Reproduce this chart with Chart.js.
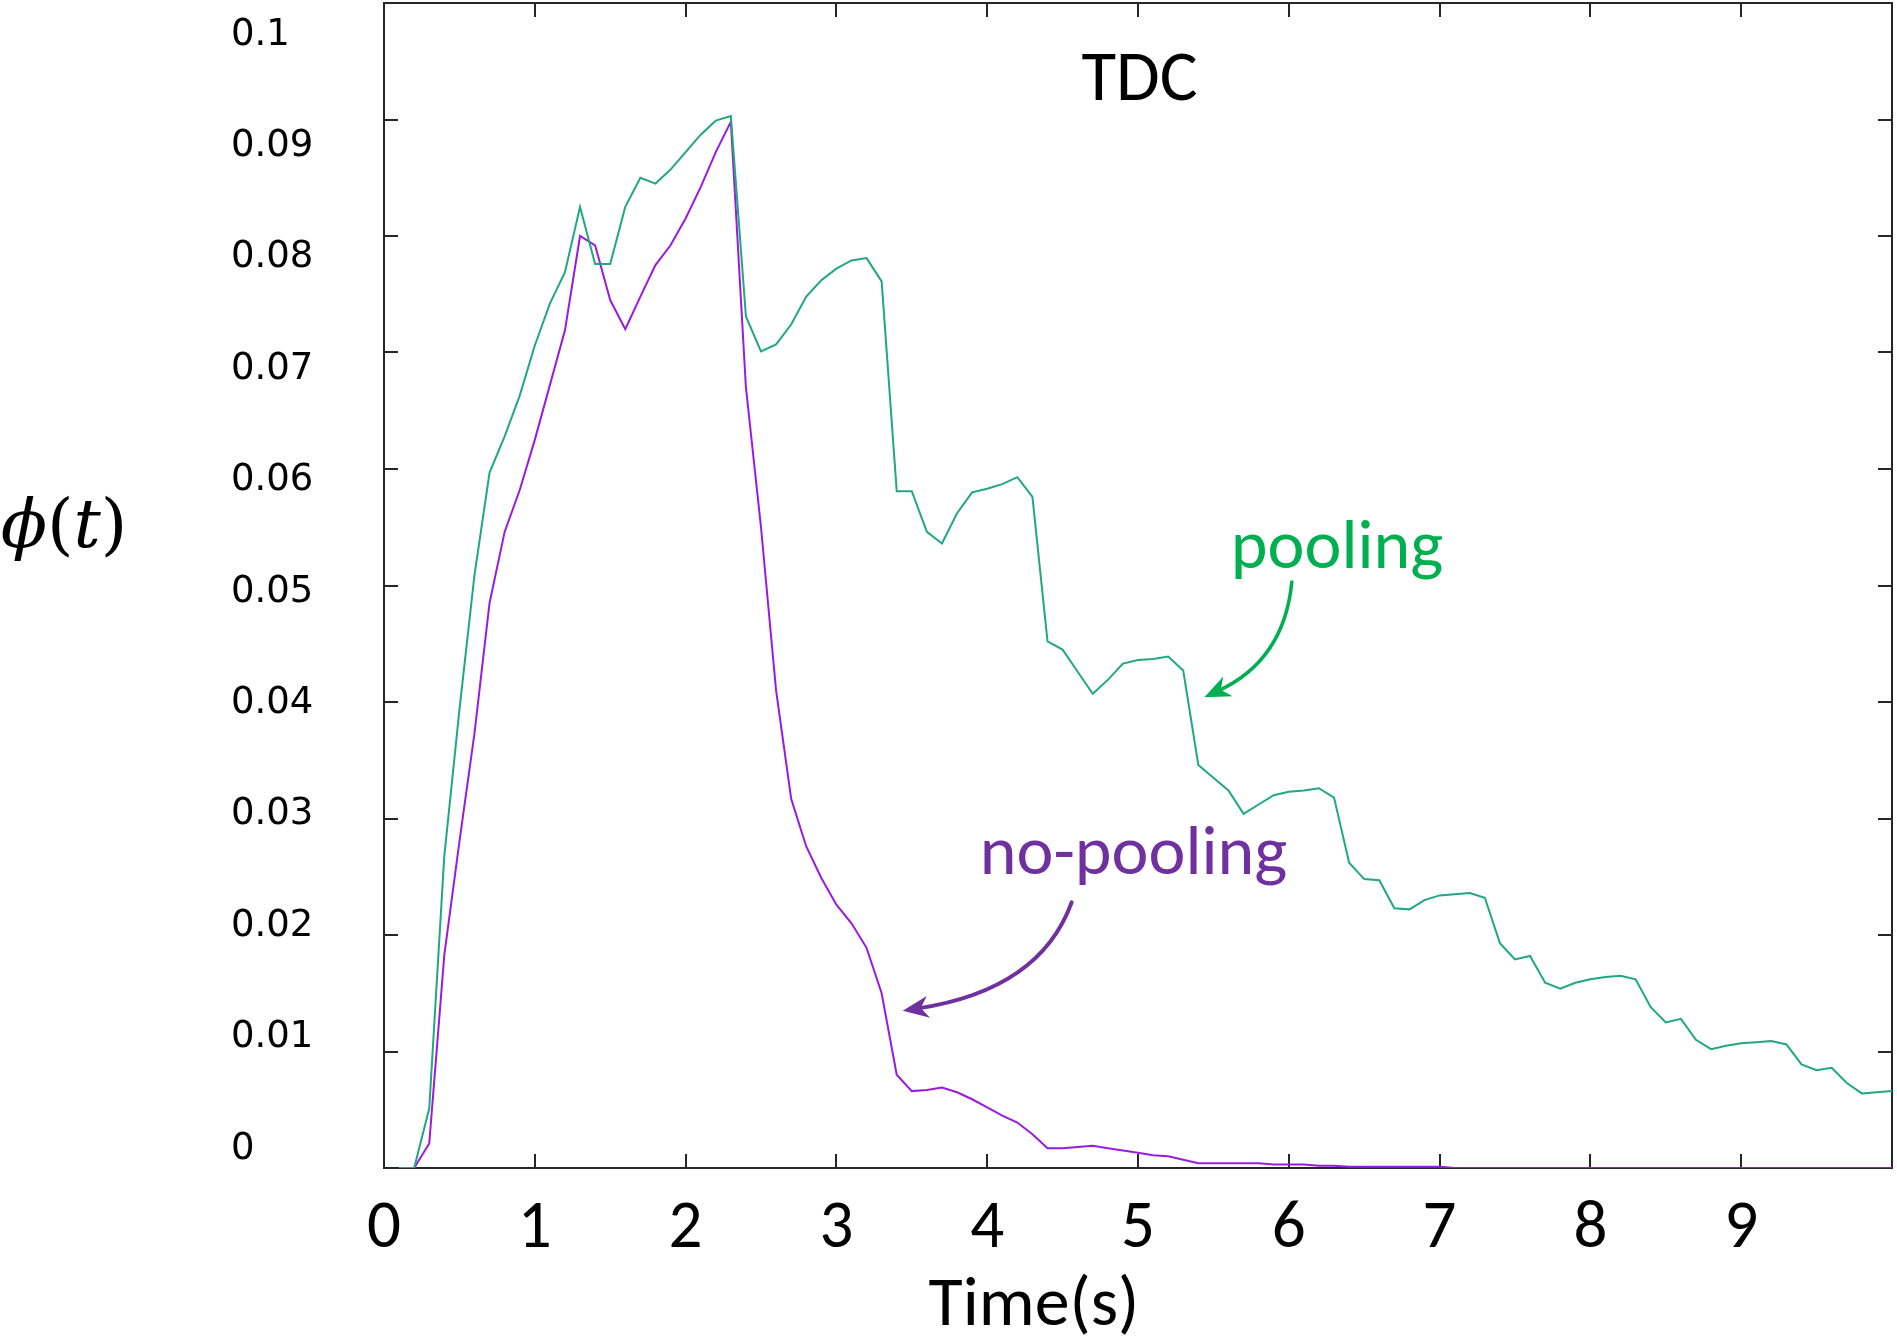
<!DOCTYPE html>
<html>
<head>
<meta charset="utf-8">
<script src="https://cdn.jsdelivr.net/npm/chart.js@4.4.1/dist/chart.umd.min.js"></script>
<style>
  html, body { margin: 0; padding: 0; background: #fff; }
  #wrap { width: 1897px; height: 1338px; }
</style>
</head>
<body>
<div id="wrap"><canvas id="canvas" width="1897" height="1338"></canvas></div>
<script>
// time axis (s)
const timeS = [0.1, 0.2, 0.3, 0.4, 0.5, 0.6, 0.7, 0.8, 0.9, 1.0,
  1.1, 1.2, 1.3, 1.4, 1.5, 1.6, 1.7, 1.8, 1.9, 2.0,
  2.1, 2.2, 2.3, 2.4, 2.5, 2.6, 2.7, 2.8, 2.9, 3.0,
  3.1, 3.2, 3.3, 3.4, 3.5, 3.6, 3.7, 3.8, 3.9, 4.0,
  4.1, 4.2, 4.3, 4.4, 4.5, 4.6, 4.7, 4.8, 4.9, 5.0,
  5.1, 5.2, 5.3, 5.4, 5.5, 5.6, 5.7, 5.8, 5.9, 6.0,
  6.1, 6.2, 6.3, 6.4, 6.5, 6.6, 6.7, 6.8, 6.9, 7.0,
  7.1, 7.2, 7.3, 7.4, 7.5, 7.6, 7.7, 7.8, 7.9, 8.0,
  8.1, 8.2, 8.3, 8.4, 8.5, 8.6, 8.7, 8.8, 8.9, 9.0,
  9.1, 9.2, 9.3, 9.4, 9.5, 9.6, 9.7, 9.8, 9.9, 10.0];

const pooling = [0, 0, 0.0051, 0.0268, 0.0393, 0.0509, 0.0597, 0.0628, 0.0663, 0.0706,
  0.0742, 0.0769, 0.0825, 0.0776, 0.0776, 0.0825, 0.0850, 0.0845, 0.0857, 0.0872,
  0.0887, 0.0899, 0.0903, 0.0731, 0.0701, 0.0707, 0.0724, 0.0748, 0.0762, 0.0772,
  0.0779, 0.0781, 0.0761, 0.0581, 0.0581, 0.0546, 0.0536, 0.0562, 0.0580, 0.0583,
  0.0587, 0.0593, 0.0576, 0.0452, 0.0445, 0.0426, 0.0407, 0.0419, 0.0433, 0.0436,
  0.0437, 0.0439, 0.0427, 0.0346, 0.0335, 0.0324, 0.0304, 0.0312, 0.0320, 0.0323,
  0.0324, 0.0326, 0.0318, 0.0262, 0.0248, 0.0247, 0.0223, 0.0222, 0.0230, 0.0234,
  0.0235, 0.0236, 0.0232, 0.0193, 0.0179, 0.0182, 0.0159, 0.0154, 0.0159, 0.0162,
  0.0164, 0.0165, 0.0162, 0.0138, 0.0125, 0.0128, 0.0110, 0.0102, 0.0105, 0.0107,
  0.0108, 0.0109, 0.0106, 0.0089, 0.0084, 0.0086, 0.0073, 0.0064, 0.0065, 0.0066];

const noPooling = [0, 0, 0.0021, 0.0183, 0.0280, 0.0373, 0.0485, 0.0546, 0.0582, 0.0625,
  0.0672, 0.0719, 0.0800, 0.0792, 0.0745, 0.0720, 0.0748, 0.0775, 0.0792, 0.0815,
  0.0842, 0.0872, 0.0898, 0.0670, 0.0550, 0.0410, 0.0317, 0.0276, 0.0249, 0.0226,
  0.0210, 0.0189, 0.0150, 0.0080, 0.0066, 0.0067, 0.0069, 0.0065, 0.0059, 0.0052,
  0.0045, 0.0039, 0.0029, 0.0017, 0.0017, 0.0018, 0.0019, 0.0017, 0.0015, 0.0013,
  0.0011, 0.0010, 0.0007, 0.0004, 0.0004, 0.0004, 0.0004, 0.0004, 0.0003, 0.0003,
  0.0003, 0.0002, 0.0002, 0.0001, 0.0001, 0.0001, 0.0001, 0.0001, 0.0001, 0.0001,
  0, 0, 0, 0, 0, 0, 0, 0, 0, 0,
  0, 0, 0, 0, 0, 0, 0, 0, 0, 0,
  0, 0, 0, 0, 0, 0, 0, 0, 0, 0];

const xTicks = [0, 1, 2, 3, 4, 5, 6, 7, 8, 9];
const xTickLabels = ['0', '1', '2', '3', '4', '5', '6', '7', '8', '9'];
const yTicks = [0, 0.01, 0.02, 0.03, 0.04, 0.05, 0.06, 0.07, 0.08, 0.09, 0.1];
const yTickLabels = ['0', '0.01', '0.02', '0.03', '0.04', '0.05', '0.06', '0.07', '0.08', '0.09', '0.1'];

const axisColor = '#262626';
const textFont = '"Carlito", "Lato", sans-serif';

function curvedArrow(ctx, from, ctrl, to, color, width){
  const ang = Math.atan2(to[1] - ctrl[1], to[0] - ctrl[0]);
  const head = 26, half = 11;
  const cos = Math.cos(ang), sin = Math.sin(ang);
  ctx.strokeStyle = color;
  ctx.fillStyle = color;
  ctx.lineWidth = width;
  ctx.lineCap = 'round';
  ctx.beginPath();
  ctx.moveTo(from[0], from[1]);
  ctx.quadraticCurveTo(ctrl[0], ctrl[1], to[0] - cos * head * 0.6, to[1] - sin * head * 0.6);
  ctx.stroke();
  ctx.beginPath();
  ctx.moveTo(to[0], to[1]);
  ctx.lineTo(to[0] - head * cos + half * sin, to[1] - head * sin - half * cos);
  ctx.lineTo(to[0] - head * 0.7 * cos, to[1] - head * 0.7 * sin);
  ctx.lineTo(to[0] - head * cos - half * sin, to[1] - head * sin + half * cos);
  ctx.closePath();
  ctx.fill();
}

const notes = {
  id: 'notes',
  afterDraw(chart){
    const ctx = chart.ctx;
    const x = chart.scales.x, y = chart.scales.y;
    const px = v => x.getPixelForValue(v);
    const py = v => y.getPixelForValue(v);
    ctx.save();
    ctx.textAlign = 'center';
    ctx.textBaseline = 'middle';

    ctx.fillStyle = '#000';
    ctx.font = '500 71px ' + textFont;
    ctx.fillText('TDC', px(5.01), py(0.0932));

    ctx.fillStyle = '#00B050';
    ctx.font = '500 70px ' + textFont;
    ctx.fillText('pooling', px(6.32), py(0.0530));
    curvedArrow(ctx, [px(6.02), py(0.0503)], [px(5.97), py(0.0436)], [px(5.44), py(0.0404)], '#00B050', 3.5);

    ctx.fillStyle = '#7030A0';
    ctx.fillText('no-pooling', px(4.97), py(0.0267));
    curvedArrow(ctx, [px(4.56), py(0.0228)], [px(4.35), py(0.0153)], [px(3.44), py(0.0135)], '#7030A0', 4);

    // x axis title
    ctx.fillStyle = '#000';
    ctx.font = '70px ' + textFont;
    ctx.fillText('Time(s)', px(4.31), x.bottom - 31);

    // y axis title, written horizontally
    const parts = [['ϕ', 'italic'], ['(', 'normal'], ['t', 'italic'], [')', 'normal']];
    ctx.textAlign = 'left';
    let total = 0;
    parts.forEach(p => { ctx.font = p[1] + ' 68px "DejaVu Serif"'; total += ctx.measureText(p[0]).width; });
    let cx = 64 - total / 2;
    parts.forEach(p => {
      ctx.font = p[1] + ' 68px "DejaVu Serif"';
      ctx.fillText(p[0], cx, py(0.0548));
      cx += ctx.measureText(p[0]).width;
    });
    ctx.restore();
  }
};

function flatPadding(s){
  s.paddingLeft = 0; s.paddingRight = 0; s.paddingTop = 0; s.paddingBottom = 0;
}

const inwardGrid = {
  drawOnChartArea: false,
  drawTicks: true,
  tickLength: -14,
  color: axisColor,
  lineWidth: 2
};
const frame = { display: true, color: axisColor, width: 2 };

const ctx = document.getElementById('canvas');

new Chart(ctx, {
  type: 'line',
  plugins: [notes],
  data: {
    datasets: [{
      label: 'pooling',
      data: timeS.map((t, i) => ({x: t, y: pooling[i]})),
      borderColor: '#1FA882',
      borderWidth: 2,
      pointRadius: 0,
      tension: 0,
      xAxisID: 'x',
      yAxisID: 'y'
    },
    {
      label: 'no-pooling',
      data: timeS.map((t, i) => ({x: t, y: noPooling[i]})),
      borderColor: '#9A1AE0',
      borderWidth: 2,
      pointRadius: 0,
      tension: 0,
      xAxisID: 'x',
      yAxisID: 'y'
    }]
  },
  options: {
    responsive: false,
    animation: false,
    layout: { padding: { left: 231, top: 0, right: 0, bottom: 0 } },
    plugins: {
      legend: { display: false },
      tooltip: { enabled: false },
      title: { display: false }
    },
    scales: {
      x: {
        type: 'linear',
        position: 'bottom',
        min: 0,
        max: 10,
        afterBuildTicks: s => { s.ticks = xTicks.map(v => ({value: v})); },
        afterFit: s => { s.height = 170; flatPadding(s); },
        grid: inwardGrid,
        border: frame,
        ticks: {
          color: '#000',
          font: { family: textFont, size: 67 },
          padding: 36,
          maxRotation: 0,
          autoSkip: false,
          callback: (v, i) => xTickLabels[i]
        }
      },
      xTop: {
        type: 'linear',
        position: 'top',
        min: 0,
        max: 10,
        afterBuildTicks: s => { s.ticks = xTicks.map(v => ({value: v})); },
        afterFit: s => { s.height = 3; flatPadding(s); },
        grid: inwardGrid,
        border: frame,
        ticks: { display: false }
      },
      y: {
        type: 'linear',
        position: 'left',
        weight: 0,
        min: 0,
        max: 0.1,
        afterBuildTicks: s => { s.ticks = yTicks.map(v => ({value: v})); },
        afterFit: s => { s.width = 0; flatPadding(s); },
        grid: inwardGrid,
        border: frame,
        ticks: { display: false }
      },
      // the printed y labels sit slightly off their ticks in the original
      yLabels: {
        type: 'linear',
        position: 'left',
        weight: 1,
        min: -0.00171,
        max: 0.10287,
        afterBuildTicks: s => { s.ticks = yTicks.map(v => ({value: v})); },
        afterFit: s => { s.width = 153; flatPadding(s); },
        grid: { display: false },
        border: { display: false },
        ticks: {
          color: '#000',
          crossAlign: 'far',
          font: { family: '"DejaVu Sans"', size: 37 },
          callback: (v, i) => yTickLabels[i]
        }
      },
      yRight: {
        type: 'linear',
        position: 'right',
        min: 0,
        max: 0.1,
        afterBuildTicks: s => { s.ticks = yTicks.map(v => ({value: v})); },
        afterFit: s => { s.width = 5; flatPadding(s); },
        grid: inwardGrid,
        border: frame,
        ticks: { display: false }
      }
    }
  }
});
</script>
</body>
</html>
